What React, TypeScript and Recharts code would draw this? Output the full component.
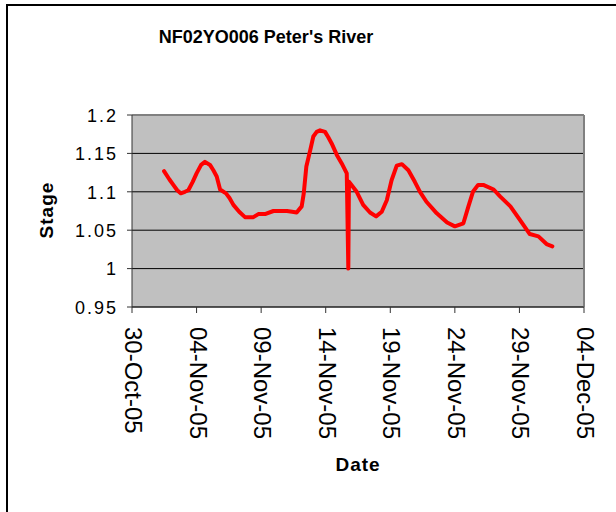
import {
  LineChart,
  Line,
  XAxis,
  YAxis,
  CartesianGrid,
  ReferenceLine,
} from "recharts";

const TITLE = "NF02YO006 Peter's River";

// days after 30-Oct-05
const days = [
  2.48, 2.9, 3.2, 3.5, 3.77, 4.1, 4.36, 4.7, 5.0, 5.35, 5.65, 6.04, 6.3, 6.56,
  6.82, 7.28, 7.55, 7.85, 8.3, 8.75, 9.4, 9.78, 10.3, 10.95, 12.0, 12.4, 12.75,
  13.14, 13.3, 13.5, 13.8, 14.04, 14.3, 14.56, 14.95, 15.2, 15.46, 15.86, 16.24,
  16.63, 16.75, 16.8, 17.4, 17.9, 18.43, 18.9, 19.34, 19.73, 20.1, 20.5, 20.9,
  21.4, 21.9, 22.3, 22.8, 23.6, 24.4, 25.0, 25.66, 26.05, 26.4, 26.8, 27.2,
  28.0, 28.5, 29.3, 30.05, 30.8, 31.47, 32.1, 32.55,
];

const stage = [
  1.127, 1.116, 1.109, 1.102, 1.098, 1.1, 1.102, 1.113, 1.124, 1.135, 1.139,
  1.135, 1.128, 1.12, 1.103, 1.098, 1.092, 1.083, 1.074, 1.067, 1.067, 1.071,
  1.071, 1.075, 1.075, 1.074, 1.073, 1.081, 1.098, 1.133, 1.154, 1.172, 1.178,
  1.18, 1.178, 1.171, 1.163, 1.148, 1.137, 1.124, 1.0, 1.113, 1.1, 1.083, 1.073,
  1.068, 1.074, 1.089, 1.115, 1.134, 1.136, 1.128, 1.113, 1.1, 1.087, 1.072,
  1.06, 1.055, 1.059, 1.081, 1.1, 1.109, 1.109, 1.103, 1.094, 1.081, 1.063,
  1.045, 1.042, 1.032, 1.029,
];

const xTicks = [0, 5, 10, 15, 20, 25, 30, 35];
const xTickLabels = [
  "30-Oct-05",
  "04-Nov-05",
  "09-Nov-05",
  "14-Nov-05",
  "19-Nov-05",
  "24-Nov-05",
  "29-Nov-05",
  "04-Dec-05",
];

const yTicks = [0.95, 1, 1.05, 1.1, 1.15, 1.2];

const FONT = '"Liberation Sans", Arial, sans-serif';

const data = days.map((d, i) => ({ day: d, stage: stage[i] }));

function XTick(props: any) {
  const { x, y, payload } = props;
  const idx = xTicks.indexOf(payload.value);
  return (
    <text
      transform={`translate(${x - 7},${y + 12}) rotate(90)`}
      textAnchor="start"
      fontFamily={FONT}
      fontSize={24}
      fill="#000"
    >
      {xTickLabels[idx]}
    </text>
  );
}

function YTick(props: any) {
  const { x, y, payload } = props;
  return (
    <text
      x={x}
      y={y}
      dy="0.38em"
      textAnchor="end"
      fontFamily={FONT}
      fontSize={18}
      letterSpacing={2}
      fill="#000"
    >
      {String(payload.value)}
    </text>
  );
}

export default function App() {
  return (
    <div
      style={{
        position: "absolute",
        left: 0,
        top: 0,
        width: 616,
        height: 512,
        overflow: "hidden",
        background: "#fff",
      }}
    >
      <div
        style={{
          position: "absolute",
          left: 6,
          top: 4,
          width: 700,
          height: 600,
          borderLeft: "2px solid #000",
          borderTop: "2px solid #000",
        }}
      />
      <div style={{ position: "absolute", left: 0, top: 0 }}>
        <LineChart
          width={616}
          height={512}
          data={data}
          margin={{ top: 115, right: 32, bottom: 55, left: 32 }}
        >
          <CartesianGrid
            vertical={false}
            stroke="#000"
            fill="#C0C0C0"
            fillOpacity={1}
          />
          <XAxis
            dataKey="day"
            type="number"
            domain={[0, 35]}
            ticks={xTicks}
            interval={0}
            height={150}
            stroke="#333"
            tickSize={6}
            tick={<XTick />}
            label={(p: any) => (
              <text
                x={358}
                y={471}
                textAnchor="middle"
                fontFamily={FONT}
                fontSize={19}
                fontWeight="bold"
                letterSpacing={1}
                fill="#000"
              >
                Date
              </text>
            )}
          />
          <YAxis
            type="number"
            domain={[0.95, 1.2]}
            ticks={yTicks}
            interval={0}
            width={100}
            stroke="#333"
            tickSize={5}
            tickMargin={9}
            tick={<YTick />}
            label={(p: any) => (
              <text
                transform="translate(53,210) rotate(-90)"
                textAnchor="middle"
                fontFamily={FONT}
                fontSize={19}
                fontWeight="bold"
                letterSpacing={1}
                fill="#000"
              >
                Stage
              </text>
            )}
          />
          <ReferenceLine y={1.2} stroke="#808080" strokeWidth={2} />
          <ReferenceLine x={35} stroke="#808080" strokeWidth={2} />
          <Line
            type="linear"
            dataKey="stage"
            stroke="#FF0000"
            strokeWidth={4}
            strokeLinejoin="round"
            strokeLinecap="round"
            dot={false}
            isAnimationActive={false}
          />
          <text
            x={266}
            y={43}
            textAnchor="middle"
            fontFamily={FONT}
            fontSize={18}
            fontWeight="bold"
            fill="#000"
          >
            {TITLE}
          </text>
        </LineChart>
      </div>
    </div>
  );
}
